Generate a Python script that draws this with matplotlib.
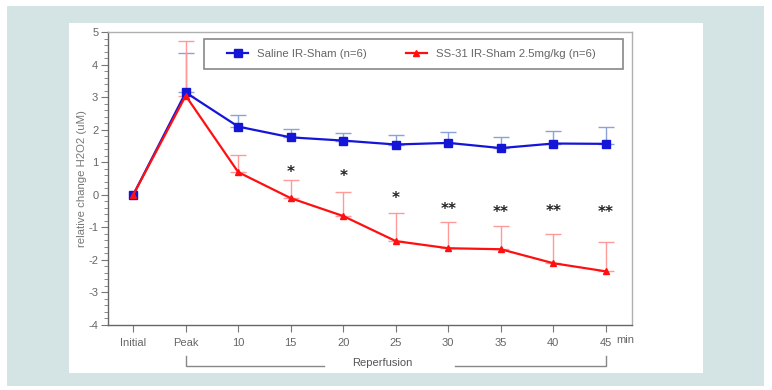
import matplotlib
matplotlib.use("Agg")
import matplotlib.pyplot as plt
from matplotlib.patches import Rectangle
from matplotlib.lines import Line2D
import numpy as np

plt.rcParams['font.family'] = ['Liberation Sans', 'DejaVu Sans']
plt.rcParams['axes.unicode_minus'] = False

categories = ["Initial", "Peak", "10", "15", "20", "25", "30", "35", "40", "45"]
saline = [0, 3.15, 2.1, 1.77, 1.67, 1.55, 1.6, 1.44, 1.58, 1.57]
saline_err = [0, 1.2, 0.35, 0.26, 0.23, 0.3, 0.34, 0.34, 0.39, 0.53]
ss31 = [0, 3.05, 0.7, -0.1, -0.65, -1.42, -1.64, -1.67, -2.1, -2.35]
ss31_err = [0, 1.67, 0.52, 0.57, 0.75, 0.85, 0.8, 0.7, 0.89, 0.91]
star_idx = [3, 4, 5, 6, 7, 8, 9]
star_txt = ["*", "*", "*", "**", "**", "**", "**"]
star_y = [0.68, 0.56, -0.12, -0.45, -0.55, -0.52, -0.55]

W, H = 772, 390
fig = plt.figure(figsize=(W / 100, H / 100), dpi=100)
fig.patch.set_facecolor("white")
fig.patches.append(Rectangle((7 / W, 1 - 386 / H), (764 - 7) / W, (386 - 6) / H,
                             transform=fig.transFigure, facecolor="#d4e3e3", edgecolor="none", zorder=-10))
fig.patches.append(Rectangle((69 / W, 1 - 373 / H), (703 - 69) / W, (373 - 23) / H,
                             transform=fig.transFigure, facecolor="white", edgecolor="none", zorder=-9))

AX_L, AX_R, AX_T, AX_B = 108, 632, 32.3, 325
ax = fig.add_axes([AX_L / W, 1 - AX_B / H, (AX_R - AX_L) / W, (AX_B - AX_T) / H])
ax.set_facecolor("none")
x = np.arange(len(categories))

def xa(p):
    return (p - AX_L) / (AX_R - AX_L)

def ya(p):
    return (AX_B - p) / (AX_B - AX_T)

ax.errorbar(x[1:], saline[1:], yerr=[np.zeros(len(x) - 1), saline_err[1:]], fmt="none",
            ecolor="#8aa2d8", elinewidth=1.0, capsize=6, capthick=1.0, zorder=2)
ax.errorbar(x[1:], ss31[1:], yerr=[np.zeros(len(x) - 1), ss31_err[1:]], fmt="none",
            ecolor="#ff9a9a", elinewidth=1.0, capsize=6, capthick=1.0, zorder=2)
l1, = ax.plot(x, saline, color="#1515d8", lw=1.6, marker="s", ms=5.3, zorder=3,
              label="Saline IR-Sham (n=6)")
l2, = ax.plot(x, ss31, color="#ff1010", lw=1.6, marker="^", ms=4.5, zorder=4,
              label="SS-31 IR-Sham 2.5mg/kg (n=6)")

for i, t, yv in zip(star_idx, star_txt, star_y):
    ax.text(x[i], yv, t, ha="center", va="center", fontsize=11, fontweight="bold",
            color="#222222", family=["DejaVu Sans"])

ax.set_xlim(-0.48, 9.5)
ax.set_ylim(-4, 5)
ax.set_xticks(x)
ax.set_xticklabels(categories)
ax.set_yticks(range(-4, 6))
ax.set_yticks(np.arange(-4, 5.01, 0.2), minor=True)
ax.tick_params(axis="both", colors="#666666", labelsize=8, direction="out")
ax.tick_params(axis="x", length=5, width=0.8, pad=4, colors="#777777", labelcolor="#666666")
ax.tick_params(axis="y", which="major", length=5, width=0.8, pad=2, colors="#777777", labelcolor="#666666")
ax.tick_params(axis="y", which="minor", length=3, width=0.6, colors="#777777")
for s in ["left", "bottom"]:
    ax.spines[s].set_color("#666666")
    ax.spines[s].set_linewidth(1.0)
for s in ["top", "right"]:
    ax.spines[s].set_color("#b0b0b0")
    ax.spines[s].set_linewidth(1.0)

ax.text(xa(616), ya(335), "min", transform=ax.transAxes, ha="left", va="top", fontsize=8,
        color="#666666")

ax.set_ylabel("relative change H2O2 (uM)", fontsize=8.2, color="#777777", labelpad=1)

# legend frame and entries
ax.add_patch(Rectangle((xa(204), ya(69)), xa(623) - xa(204), ya(39) - ya(69),
                       transform=ax.transAxes, facecolor="white", edgecolor="#888888",
                       lw=1.2, clip_on=False, zorder=5))
leg = ax.legend(handles=[l1, l2], loc="center left", bbox_to_anchor=(xa(227), ya(54)),
                ncol=2, fontsize=8.2, frameon=False, handlelength=1.85, borderpad=0,
                handletextpad=0.8, columnspacing=3.4, borderaxespad=0)
leg.set_zorder(6)
for t in leg.get_texts():
    t.set_color("#666666")

# Reperfusion bracket
tr = ax.get_xaxis_transform()
bracket_color = "#888888"
ax.add_line(Line2D([1, 1, 3.64], [ya(356), ya(366), ya(366)], transform=tr,
                   color=bracket_color, lw=1.0, clip_on=False))
ax.add_line(Line2D([6.13, 9, 9], [ya(366), ya(366), ya(356)], transform=tr,
                   color=bracket_color, lw=1.0, clip_on=False))
ax.text(4.75, ya(363), "Reperfusion", transform=tr, ha="center", va="center",
        fontsize=8, color="#555555")

fig.savefig("out.png", dpi=100)
